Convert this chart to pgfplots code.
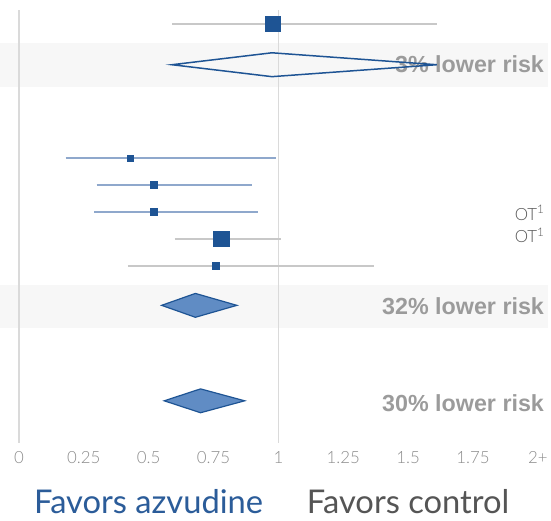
\documentclass[border=0pt]{standalone}
\usepackage{pgfplots}
\pgfplotsset{compat=1.18}
\usepackage{pgfplotstable}
\usepackage{fontspec}
\setmainfont{Lato}
\newfontfamily\lightfont{Lato Light}
\newfontfamily\boldsans{Liberation Sans}

\definecolor{sqblue}{RGB}{30,84,148}
\definecolor{ciblue}{RGB}{143,168,204}
\definecolor{cigray}{RGB}{200,200,200}
\definecolor{dmfill}{RGB}{96,140,196}
\definecolor{bandgray}{RGB}{247,247,247}
\definecolor{refgray}{RGB}{218,218,218}
\definecolor{riskgray}{RGB}{155,155,155}
\definecolor{tickgray}{RGB}{140,140,140}
\definecolor{favblue}{RGB}{43,92,153}
\definecolor{favgray}{RGB}{85,85,85}

% Study estimates: risk ratio, 95% CI, row position, marker half-size
\pgfplotstableread{
est    lo    hi     y     s
0.98   0.59  1.61  -24    7.8
0.43   0.18  0.99  -159   3.2
0.52   0.30  0.90  -186   3.6
0.52   0.29  0.92  -213   3.6
0.78   0.60  1.01  -240   7.8
0.76   0.42  1.37  -267   3.6
}\studies

\begin{document}
\begin{tikzpicture}
\begin{axis}[
  scale only axis,
  width=551bp, height=523bp,
  xmin=-0.0728, xmax=2.0383,
  ymin=-523, ymax=0,
  axis line style={draw=none},
  major tick length=0pt,
  ytick=\empty,
  xtick={0,0.25,0.5,0.75,1,1.25,1.5,1.75,2},
  xticklabels={0,0.25,0.5,0.75,1,1.25,1.5,1.75,2+},
  xticklabel style={anchor=base, yshift=57bp, text=tickgray,
    font=\lightfont\fontsize{17}{17}\selectfont},
  clip=false,
]
% shaded summary bands
\fill[bandgray] (axis cs:-0.0728,-43) rectangle (axis cs:2.0383,-87);
\fill[bandgray] (axis cs:-0.0728,-287) rectangle (axis cs:2.0383,-330);

% reference lines at 0 and 1
\draw[refgray, line width=1.6bp] (axis cs:0,-10) -- (axis cs:0,-445);
\draw[refgray, line width=1.6bp] (axis cs:1,-10) -- (axis cs:1,-445);

% confidence intervals
\addplot[cigray, line width=2bp, forget plot] coordinates {(0.59,-24) (1.61,-24)};
\addplot[ciblue, line width=2bp, forget plot] coordinates {(0.18,-159) (0.99,-159)};
\addplot[ciblue, line width=2bp, forget plot] coordinates {(0.30,-186) (0.90,-186)};
\addplot[ciblue, line width=2bp, forget plot] coordinates {(0.29,-213) (0.92,-213)};
\addplot[cigray, line width=2bp, forget plot] coordinates {(0.60,-240) (1.01,-240)};
\addplot[cigray, line width=2bp, forget plot] coordinates {(0.42,-267) (1.37,-267)};

% point estimates
\addplot[only marks, mark=square*, scatter,
  scatter/use mapped color={draw=sqblue, fill=sqblue},
  mark options={line width=0pt},
  visualization depends on={\thisrow{s} \as \msize},
  scatter/@pre marker code/.append style={/tikz/mark size=\msize}]
  table[x=est, y=y] {\studies};

% risk labels
\tikzset{risk/.style={anchor=east, inner sep=0pt, text=riskgray,
  font=\boldsans\bfseries\fontsize{23.5}{23.5}\selectfont}}
\node[risk] at (axis cs:2.024,-64) {3\% lower risk};
\node[risk] at (axis cs:2.024,-308) {32\% lower risk};
\node[risk] at (axis cs:2.024,-405) {30\% lower risk};

% pooled estimates
\addplot[draw=sqblue, line width=1.5bp, fill=none] coordinates
  {(0.59,-65) (0.975,-53) (1.61,-65) (0.975,-77)} --cycle;
\addplot[draw=sqblue, line width=1.2bp, fill=dmfill] coordinates
  {(0.55,-307) (0.68,-295) (0.84,-307) (0.68,-319)} --cycle;
\addplot[draw=sqblue, line width=1.2bp, fill=dmfill] coordinates
  {(0.56,-403) (0.70,-391) (0.87,-403) (0.70,-415)} --cycle;

% side notes
\node[anchor=east, inner sep=0pt, text=favgray, font=\lightfont\fontsize{17}{17}\selectfont]
  at (axis cs:2.026,-214) {OT\textsuperscript{1}};
\node[anchor=east, inner sep=0pt, text=favgray, font=\lightfont\fontsize{17}{17}\selectfont]
  at (axis cs:2.026,-237) {OT\textsuperscript{1}};

% direction labels
\node[anchor=base, inner sep=0pt, text=favblue, font=\fontsize{33}{33}\selectfont]
  at (axis cs:0.5,-516) {Favors azvudine};
\node[anchor=base, inner sep=0pt, text=favgray, font=\fontsize{33}{33}\selectfont]
  at (axis cs:1.5,-516) {Favors control};
\end{axis}
\end{tikzpicture}
\end{document}
